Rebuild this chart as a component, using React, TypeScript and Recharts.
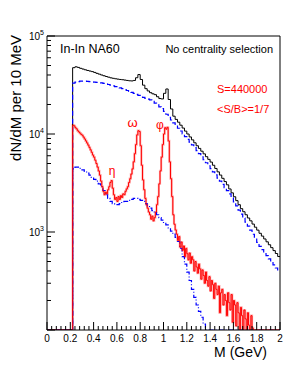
import { Line, LineChart, XAxis, YAxis } from 'recharts';

// histogram binning (GeV)
const FLOOR = 100;
const X_MAX = 2;
const COARSE_START = 0.22;
const COARSE_WIDTH = 0.02;
const FINE_START = 0.22;
const FINE_WIDTH = 0.01;

// total opposite-sign dimuons, 20 MeV bins from 0.22
const totalCounts = [
  47500, 48500, 47800, 46800, 46000, 45200, 44500, 43900, 43300, 42500,
  41600, 40800, 40000, 39300, 38600, 38000, 37400, 37000, 36600, 36300,
  36000, 35800, 35500, 35200, 34900, 34800, 35200, 37500, 40400, 36000,
  31500, 29000, 27500, 26400, 25700, 25200, 24000, 23000, 22800, 26000,
  28800, 22500, 18000, 15200, 14100, 13200, 12300, 11500, 10700, 10000,
  9330, 8710, 8130, 7590, 7130, 6680, 6270, 5870, 5510, 5170,
  4800, 4450, 4110, 3810, 3530, 3270, 3030, 2750, 2510, 2290,
  2090, 1900, 1730, 1610, 1500, 1390, 1300, 1205, 1120, 1045,
  970, 908, 849, 794, 741, 692, 646, 603, 562,
];

// combinatorial background, 20 MeV bins from 0.22
const backgroundCounts = [
  33000, 33800, 34300, 34600, 34700, 34600, 34400, 34200, 34000, 33800,
  33600, 33400, 33200, 32900, 32500, 32000, 31500, 31000, 30500, 30000,
  29500, 29000, 28400, 27800, 27200, 26600, 26000, 25400, 24800, 24200,
  23700, 23100, 22700, 22300, 21500, 20700, 19800, 18900, 18200, 17000,
  15900, 14800, 13900, 13000, 12200, 11450, 10730, 10050, 9420, 8830,
  8270, 7750, 7250, 6760, 6300, 5860, 5460, 5090, 4740, 4430,
  4110, 3820, 3550, 3300, 3060, 2840, 2640, 2450, 2230, 2030,
  1845, 1675, 1525, 1387, 1262, 1148, 1043, 948, 863, 785,
  714, 661, 615, 573, 532, 495, 461, 429, 400,
];

// fake matches, 20 MeV bins from 0.22
const fakeCounts = [
  4400, 4600, 4600, 4450, 4300, 4150, 4000, 3800, 3600, 3450,
  3300, 3100, 2900, 2650, 2400, 2200, 2050, 1950, 1900, 1900,
  1950, 2000, 2050, 2050, 2100, 2150, 2200, 2200, 2150, 2100,
  2050, 1950, 1850, 1750, 1650, 1580, 1500, 1400, 1320, 1250,
  1180, 1100, 1020, 950, 880, 800, 680, 560, 470, 390,
  320, 260, 215, 180, 155, 135, 115,
];

// net signal, 10 MeV bins from 0.22
const signalCounts = [
  12300, 12100, 11600, 11300, 10800, 10500, 10200, 9900, 9700, 9300,
  8900, 8500, 8100, 7700, 7300, 6900, 6500, 6100, 5800, 5400,
  5000, 4600, 4200, 3800, 3300, 2900, 2600, 2400, 2550, 2450,
  2700, 2900, 3200, 3350, 2800, 2400, 2150, 2250, 2050, 2300,
  2150, 2350, 2250, 2450, 2400, 2600, 2750, 2900, 3200, 3500,
  3900, 4400, 5200, 6300, 7800, 9800, 10800, 10600, 7600, 4800,
  3400, 2700, 2200, 1900, 1750, 1600, 1500, 1350, 1450, 1300,
  1400, 1600, 1900, 2300, 3100, 4200, 5800, 7800, 10000, 11600,
  11200, 11700, 8500, 5200, 3500, 2300, 1500, 1200, 1050, 950,
  820, 900, 700, 790, 650, 720, 560, 680, 600, 520,
  610, 480, 560, 520, 400, 500, 440, 380, 470, 420,
  330, 410, 360, 300, 390, 320, 280, 350, 250, 320,
  290, 210, 300, 260, 230, 280, 150, 240, 260, 180,
  230, 200, 140, 240, 190, 160, 230, 120, 200, 180,
  110, 190, 150, 100, 170, 140, 100, 160, 130, 100,
  150, 112, 100, 140, 105,
];

const xMajorTicks = [0, 0.2, 0.4, 0.6, 0.8, 1, 1.2, 1.4, 1.6, 1.8, 2];
const xMinorStep = 0.04;
const yTicks = [
  100, 200, 300, 400, 500, 600, 700, 800, 900,
  1000, 2000, 3000, 4000, 5000, 6000, 7000, 8000, 9000,
  10000, 20000, 30000, 40000, 50000, 60000, 70000, 80000, 90000,
  100000,
];
const yLabels: Record<number, string> = { 1000: '3', 10000: '4', 100000: '5' };

const FONT = '"Liberation Sans", Arial, Helvetica, sans-serif';
const W = 291;
const H = 367;
// plot frame: x 47..280, y 36..330 (axes take 1px each)
const margin = { top: 35, right: 10, bottom: 36, left: 46 };

function toHistogram(start: number, width: number, counts: number[]) {
  const pts = [{ m: 0, n: FLOOR }];
  counts.forEach((n, i) => pts.push({ m: +(start + i * width).toFixed(3), n }));
  const end = +(start + counts.length * width).toFixed(3);
  if (end < X_MAX - 1e-6) {
    pts.push({ m: end, n: FLOOR });
    pts.push({ m: X_MAX, n: FLOOR });
  } else {
    pts.push({ m: X_MAX, n: counts[counts.length - 1] });
  }
  return pts;
}

const total = toHistogram(COARSE_START, COARSE_WIDTH, totalCounts);
const background = toHistogram(COARSE_START, COARSE_WIDTH, backgroundCounts);
const fakes = toHistogram(COARSE_START, COARSE_WIDTH, fakeCounts);
const signal = toHistogram(FINE_START, FINE_WIDTH, signalCounts);

const xTicks: number[] = [];
for (let i = 0; i <= Math.round(X_MAX / xMinorStep); i++) xTicks.push(+(i * xMinorStep).toFixed(3));

const PLOT_LEFT = 47;
const PLOT_BOTTOM = 330;

function MassTick(props: any) {
  const { x, payload } = props;
  const v = payload.value;
  const y = PLOT_BOTTOM;
  const major = xMajorTicks.some((t) => Math.abs(t - v) < 1e-6);
  return (
    <g>
      <line x1={x} x2={x} y1={y} y2={y - (major ? 8 : 4)} stroke="#000" strokeWidth={1} />
      {major && (
        <text x={x} y={y + 12} textAnchor="middle" fontSize={10} fontFamily={FONT} fill="#000">
          {String(Math.round(v * 10) / 10)}
        </text>
      )}
    </g>
  );
}

function CountTick(props: any) {
  const { y, payload } = props;
  const v = payload.value;
  const x = PLOT_LEFT;
  const exp = yLabels[v];
  const major = [100, 1000, 10000, 100000].includes(v);
  return (
    <g>
      <line x1={x} x2={x + (major ? 8 : 4)} y1={y} y2={y} stroke="#000" strokeWidth={1} />
      {exp && (
        <text x={x - 3} y={y + 4} textAnchor="end" fontSize={10} fontFamily={FONT} fill="#000">
          <tspan>10</tspan>
          <tspan dy={-5} fontSize={7}>{exp}</tspan>
        </text>
      )}
    </g>
  );
}

export default function App() {
  return (
    <div style={{ position: 'absolute', left: 0, top: 0, width: W, height: H, background: '#fff' }}>
      <LineChart width={W} height={H} margin={margin}>
        <XAxis
          dataKey="m"
          type="number"
          domain={[0, X_MAX]}
          allowDataOverflow
          ticks={xTicks}
          interval={0}
          height={1}
          tickSize={0}
          tickMargin={0}
          tick={<MassTick />}
          axisLine={{ stroke: '#000' }}
          tickLine={false}
        />
        <XAxis xAxisId="top" orientation="top" type="number" domain={[0, X_MAX]} height={1} tick={false} tickLine={false} axisLine={{ stroke: '#000' }} />
        <YAxis
          dataKey="n"
          type="number"
          scale="log"
          domain={[FLOOR, 100000]}
          allowDataOverflow
          ticks={yTicks}
          interval={0}
          width={1}
          tickSize={0}
          tickMargin={0}
          tick={<CountTick />}
          axisLine={{ stroke: '#000' }}
          tickLine={false}
        />
        <YAxis yAxisId="right" orientation="right" type="number" domain={[0, 1]} width={1} tick={false} tickLine={false} axisLine={{ stroke: '#000' }} />
        <Line data={signal} dataKey="n" type="stepAfter" stroke="#ffb0b0" strokeWidth={2.2} dot={false} activeDot={false} isAnimationActive={false} />
        <Line data={total} dataKey="n" type="stepAfter" stroke="#000" strokeWidth={1} dot={false} activeDot={false} isAnimationActive={false} />
        <Line data={background} dataKey="n" type="stepAfter" stroke="#0000ff" strokeWidth={1.2} strokeDasharray="5 3" dot={false} activeDot={false} isAnimationActive={false} />
        <Line data={fakes} dataKey="n" type="stepAfter" stroke="#0000ff" strokeWidth={1.2} strokeDasharray="5 2 1 2" dot={false} activeDot={false} isAnimationActive={false} />
        <Line data={signal} dataKey="n" type="stepAfter" stroke="#ff0000" strokeWidth={1} dot={false} activeDot={false} isAnimationActive={false} />
      </LineChart>
      <svg width={W} height={H} style={{ position: 'absolute', left: 0, top: 0, pointerEvents: 'none' }} fontFamily={FONT}>
        <text x={21} y={35} transform="rotate(-90 21 35)" textAnchor="end" fontSize={15} fill="#000">dN/dM per 10 MeV</text>
        <text x={267} y={357} textAnchor="end" fontSize={14} fill="#000">M (GeV)</text>
        <text x={60} y={53} fontSize={12.5} fill="#000">In-In NA60</text>
        <text x={273} y={53} textAnchor="end" fontSize={11} fill="#000">No centrality selection</text>
        <text x={217} y={93} fontSize={11} fill="#ff0000">S=440000</text>
        <text x={217} y={113} fontSize={11} fill="#ff0000">&lt;S/B&gt;=1/7</text>
        <text x={112} y={175} textAnchor="middle" fontSize={12} fill="#ff0000">η</text>
        <text x={132.5} y={127} textAnchor="middle" fontSize={13} fill="#ff0000">ω</text>
        <text x={160} y={129} textAnchor="middle" fontSize={12} fill="#ff0000">φ</text>
      </svg>
    </div>
  );
}
